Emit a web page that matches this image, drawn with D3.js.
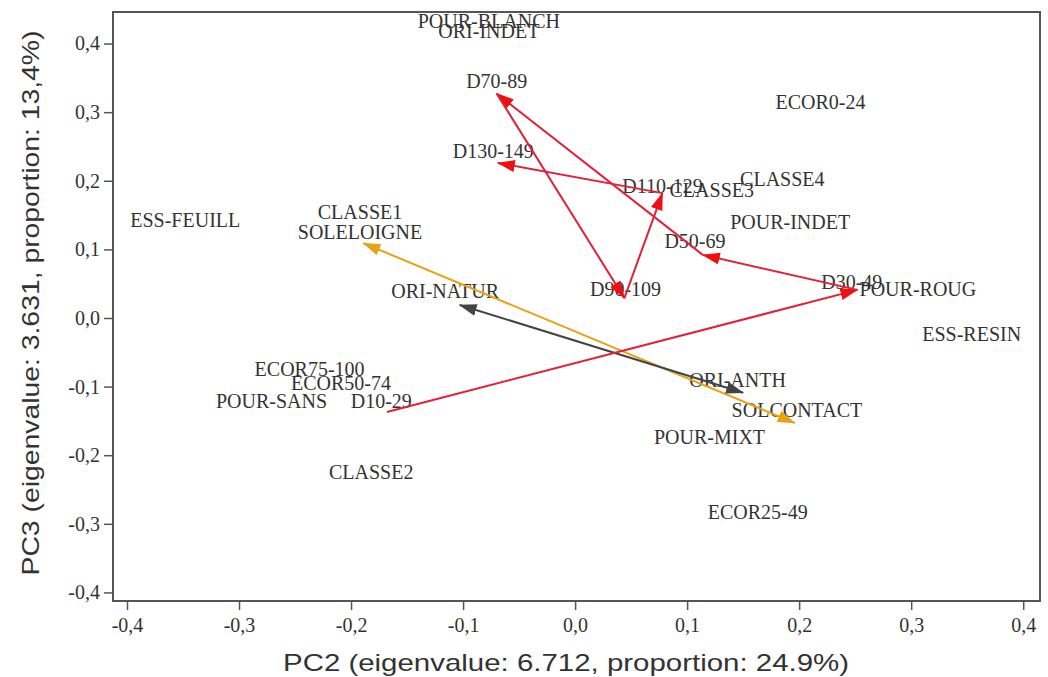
<!DOCTYPE html>
<html lang="en">
<head>
<meta charset="UTF-8" />
<title>PCA biplot PC2 / PC3</title>
<script src="https://cdnjs.cloudflare.com/ajax/libs/d3/7.8.5/d3.min.js"></script>
<style>
  body { margin: 0; background: #fff; }
  .lbl { font-family: "Liberation Serif", "Times New Roman", serif; font-size: 20px; fill: #333; }
  .tick text { font-family: "Liberation Serif", "Times New Roman", serif; font-size: 20px; fill: #333; }
  .tick line { stroke: #555; stroke-width: 1.5; }
  .title { font-family: "Liberation Sans", Arial, sans-serif; font-size: 24px; fill: #333; }
</style>
</head>
<body>
<script>
// category labels (point positions on PC2 / PC3)
var labelNames = ["POUR-BLANCH", "ORI-INDET", "D70-89", "ECOR0-24", "D130-149", "CLASSE4",
  "D110-129", "CLASSE3", "ESS-FEUILL", "CLASSE1", "POUR-INDET", "SOLELOIGNE", "D50-69",
  "D30-49", "POUR-ROUG", "D90-109", "ORI-NATUR", "ESS-RESIN", "ECOR75-100", "ORI-ANTH",
  "ECOR50-74", "POUR-SANS", "D10-29", "SOLCONTACT", "POUR-MIXT", "CLASSE2", "ECOR25-49"];
var labelX = [-0.077, -0.077, -0.070, 0.219, -0.073, 0.185,
  0.078, 0.122, -0.348, -0.192, 0.192, -0.192, 0.107,
  0.247, 0.306, 0.045, -0.116, 0.354, -0.237, 0.145,
  -0.209, -0.271, -0.173, 0.198, 0.120, -0.182, 0.163];
var labelY = [0.433, 0.418, 0.345, 0.315, 0.243, 0.203,
  0.192, 0.187, 0.143, 0.155, 0.140, 0.125, 0.112,
  0.052, 0.042, 0.042, 0.039, -0.023, -0.074, -0.090,
  -0.095, -0.121, -0.121, -0.134, -0.173, -0.224, -0.283];

// diameter class trajectory
var diamNames = ["D10-29", "D30-49", "D50-69", "D70-89", "D90-109", "D110-129", "D130-149"];
var diamX = [-0.168, 0.252, 0.114, -0.070, 0.044, 0.078, -0.069];
var diamY = [-0.137, 0.041, 0.092, 0.327, 0.029, 0.182, 0.226];

// origin and soil pairs
var oriNames = ["ORI-ANTH", "ORI-NATUR"];
var oriX = [0.150, -0.103];
var oriY = [-0.109, 0.019];
var solNames = ["SOLCONTACT", "SOLELOIGNE"];
var solX = [0.196, -0.189];
var solY = [-0.153, 0.109];

var ticks = [-0.4, -0.3, -0.2, -0.1, 0.0, 0.1, 0.2, 0.3, 0.4];

var w = 1048, h = 677;
var margin = { top: 12, right: 8, bottom: 76, left: 113 };

var svg = d3.select("body").append("svg")
  .attr("width", w)
  .attr("height", h);

var xScale = d3.scaleLinear()
  .domain([-0.4125, 0.415])
  .range([margin.left, w - margin.right]);

var yScale = d3.scaleLinear()
  .domain([-0.4125, 0.446])
  .range([h - margin.bottom, margin.top]);

var defs = svg.append("defs");
function marker(id, color) {
  defs.append("marker")
    .attr("id", id)
    .attr("markerUnits", "userSpaceOnUse")
    .attr("viewBox", "0 -6 18 12")
    .attr("refX", 17)
    .attr("refY", 0)
    .attr("markerWidth", 18)
    .attr("markerHeight", 12)
    .attr("orient", "auto-start-reverse")
    .append("path")
    .attr("d", "M0,-6L18,0L0,6Z")
    .attr("fill", color);
}
marker("arrRed", "#f20d12");
marker("arrDark", "#444");
marker("arrGold", "#e8a212");

var fmt = function(d) {
  return d3.format(".1f")(d).replace(".", ",").replace("\u2212", "-");
};

var xAxis = d3.axisBottom(xScale).tickValues(ticks).tickSize(9).tickPadding(8).tickFormat(fmt);
var yAxis = d3.axisLeft(yScale).tickValues(ticks).tickSize(9).tickPadding(4).tickFormat(fmt);

svg.append("g")
  .attr("transform", "translate(0," + (h - margin.bottom) + ")")
  .call(xAxis)
  .call(function(g) { g.select(".domain").remove(); });

svg.append("g")
  .attr("transform", "translate(" + margin.left + ",0)")
  .call(yAxis)
  .call(function(g) { g.select(".domain").remove(); });

// frame
svg.append("rect")
  .attr("x", margin.left)
  .attr("y", margin.top)
  .attr("width", w - margin.left - margin.right)
  .attr("height", h - margin.top - margin.bottom)
  .attr("fill", "none")
  .attr("stroke", "#555")
  .attr("stroke-width", 2);

// labels
svg.selectAll("text.lbl")
  .data(labelNames)
  .enter()
  .append("text")
  .attr("class", "lbl")
  .attr("x", function(d, i) { return xScale(labelX[i]); })
  .attr("y", function(d, i) { return yScale(labelY[i]); })
  .attr("text-anchor", "middle")
  .attr("dominant-baseline", "central")
  .text(function(d) { return d; });

// pair lines with arrows at both ends
function pair(xs, ys, color, mk) {
  svg.append("line")
    .attr("x1", xScale(xs[0])).attr("y1", yScale(ys[0]))
    .attr("x2", xScale(xs[1])).attr("y2", yScale(ys[1]))
    .attr("stroke", color)
    .attr("stroke-width", 2)
    .attr("marker-start", "url(#" + mk + ")")
    .attr("marker-end", "url(#" + mk + ")");
}
pair(solX, solY, "#e8a212", "arrGold");
pair(oriX, oriY, "#444", "arrDark");

// diameter trajectory
for (var i = 1; i < diamNames.length; i++) {
  svg.append("line")
    .attr("x1", xScale(diamX[i - 1])).attr("y1", yScale(diamY[i - 1]))
    .attr("x2", xScale(diamX[i])).attr("y2", yScale(diamY[i]))
    .attr("stroke", "#e2203a")
    .attr("stroke-width", 2)
    .attr("marker-end", "url(#arrRed)");
}

// axis titles
svg.append("text")
  .attr("class", "title")
  .attr("x", 566)
  .attr("y", 671)
  .attr("text-anchor", "middle")
  .attr("textLength", 566)
  .attr("lengthAdjust", "spacingAndGlyphs")
  .text("PC2 (eigenvalue: 6.712, proportion: 24.9%)");

svg.append("text")
  .attr("class", "title")
  .attr("transform", "translate(39,303) rotate(-90)")
  .attr("text-anchor", "middle")
  .attr("textLength", 545)
  .attr("lengthAdjust", "spacingAndGlyphs")
  .text("PC3 (eigenvalue: 3.631, proportion: 13,4%)");
</script>
</body>
</html>
